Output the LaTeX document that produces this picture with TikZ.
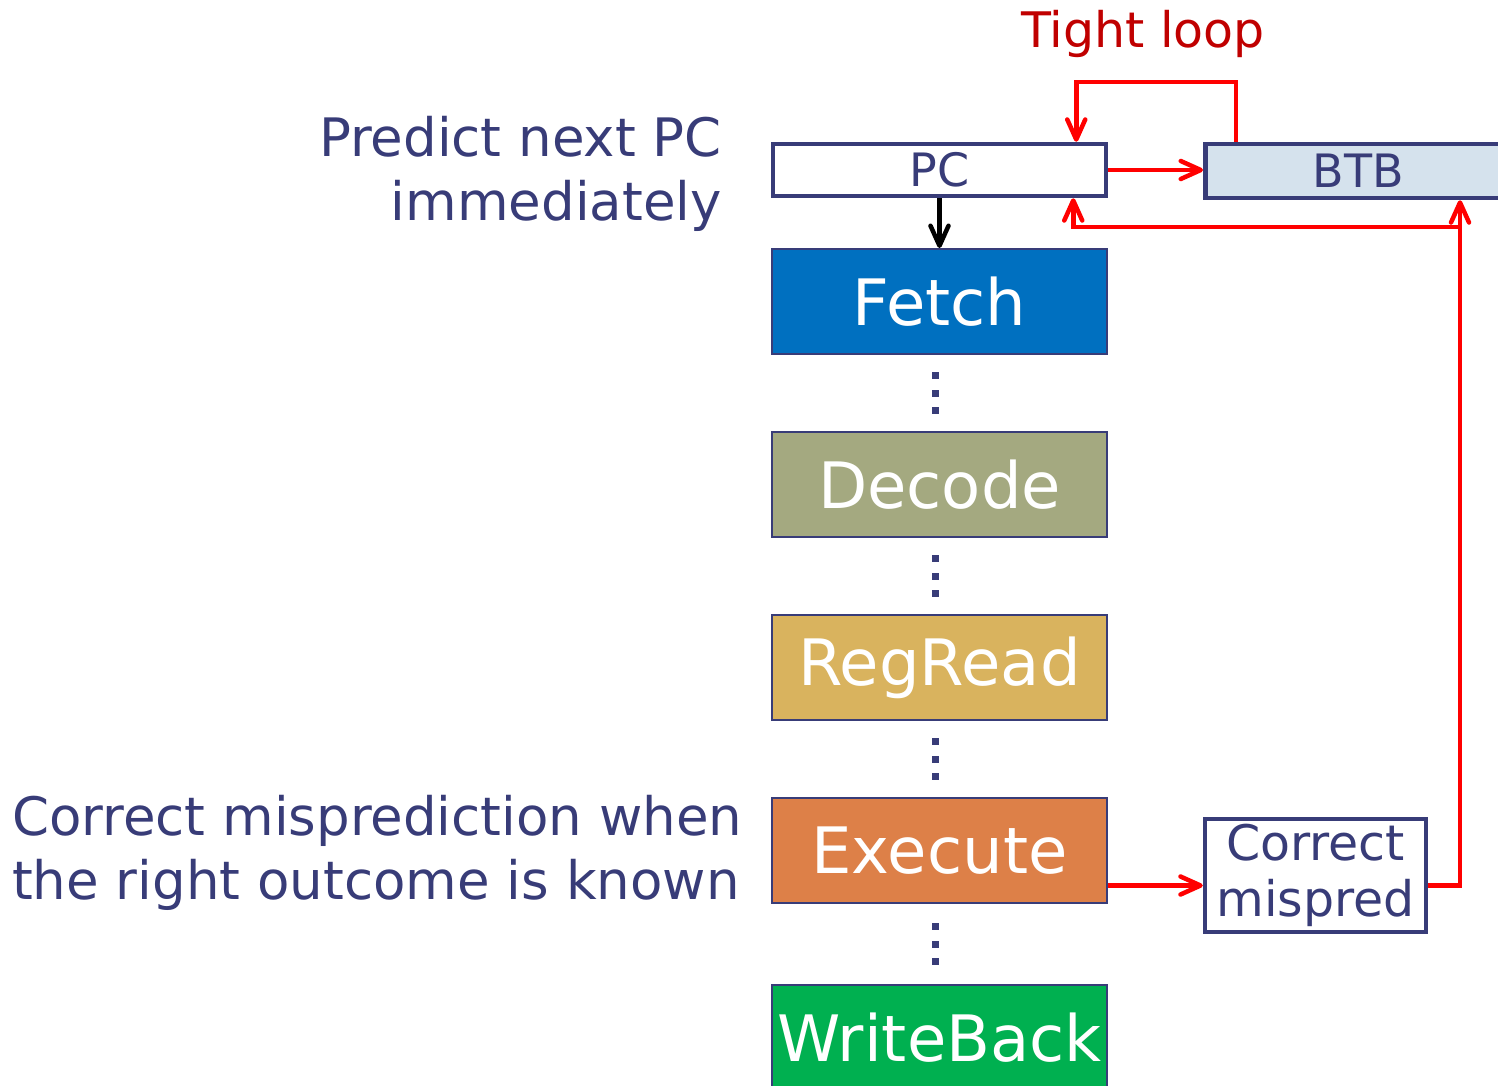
\documentclass[tikz,border=0pt]{standalone}
\usepackage{fontspec}
\setmainfont{DejaVu Sans}
\usetikzlibrary{positioning,calc,arrows.meta}

\definecolor{navy}{RGB}{56,60,120}
\definecolor{btbfill}{RGB}{213,226,237}
\definecolor{fetchblue}{RGB}{0,112,192}
\definecolor{decodeolive}{RGB}{164,169,128}
\definecolor{readgold}{RGB}{217,179,94}
\definecolor{exeorange}{RGB}{221,128,72}
\definecolor{wbgreen}{RGB}{0,176,80}
\definecolor{loopred}{RGB}{192,0,0}

\tikzset{
  stage/.style={draw=navy, line width=2pt, minimum width=335pt, minimum height=105pt,
    inner sep=0pt, text=white, font=\fontsize{64}{70}\selectfont},
  regbox/.style={draw=navy, line width=4.5pt, inner sep=0pt, text=navy,
    font=\fontsize{46}{52}\selectfont},
  redarrow/.style={draw=red, line width=4.5pt, -{Straight Barb[length=20pt,width=18pt,round]}},
  note/.style={text=navy, inner sep=0pt, font=\fontsize{53}{64}\selectfont}
}

\begin{document}
\begin{tikzpicture}[x=1pt,y=-1pt]

\useasboundingbox (0,0) rectangle (1498,1085);
\clip (0,0) rectangle (1498,1085);

% registers
\node[regbox, fill=white, minimum width=333pt, minimum height=52pt] (pc) at (939.5,170) {PC};
\node[regbox, fill=btbfill, minimum width=306pt, minimum height=54pt, anchor=west] (btb) at (1203,171) {BTB};

% pipeline stages
\node[stage, fill=fetchblue] (fetch) at (939.5,301.5) {Fetch};
\node[stage, fill=decodeolive, below=76pt of fetch] (decode) {Decode};
\node[stage, fill=readgold, below=76pt of decode] (regread) {RegRead};
\node[stage, fill=exeorange, below=76pt of regread] (execute) {Execute};
\node[stage, fill=wbgreen, below=80pt of execute] (writeback) {WriteBack};

\node[regbox, fill=white, minimum width=221pt, minimum height=113pt, align=center,
  font=\fontsize{49}{56}\selectfont] (fix) at (1315.5,875.5) {\raisebox{-5pt}{Correct}\\\raisebox{-5pt}{mispred}};

% dots between stages
\foreach \a/\b in {fetch/decode, decode/regread, regread/execute, execute/writeback}{
  \foreach \d in {-17.5,0,17.5}
    \fill[navy] ($($(\a.south)!0.5!(\b.north)$)+(-4,\d)$) +(-3.5,-3.5) rectangle +(3.5,3.5);
}

% labels
\node[note, align=right, anchor=east] (predict) at (722,174) {Predict next PC\\immediately};
\node[note, align=left, anchor=west] (correct) at (12,853) {Correct misprediction when\\the right outcome is known};
\node[text=loopred, font=\fontsize{49}{56}\selectfont, inner sep=0pt] (tight) at (1143,34) {Tight loop};

% connectors
\draw[line width=4.5pt, -{Straight Barb[length=20pt,width=18pt,round]}] (pc.south) -- (fetch.north);
\draw[redarrow] (pc.east) -- (pc.east -| btb.west);

\coordinate (loopout) at ([xshift=33pt]btb.north west);
\coordinate (loopin) at ([xshift=-32pt]pc.north east);
\draw[redarrow] (loopout) -- ++(0,-60) -| (loopin);

\coordinate (fixout) at ([yshift=-10pt]fix.east);
\coordinate (tap) at (1460,227);
\draw[redarrow] ([yshift=-35pt]execute.east) -- ([yshift=-35pt]execute.east -| fix.west);
\draw[redarrow] (fixout) -| (tap |- btb.south);
\draw[redarrow] (tap) -| ([xshift=-35pt]pc.south east);

\end{tikzpicture}
\end{document}
